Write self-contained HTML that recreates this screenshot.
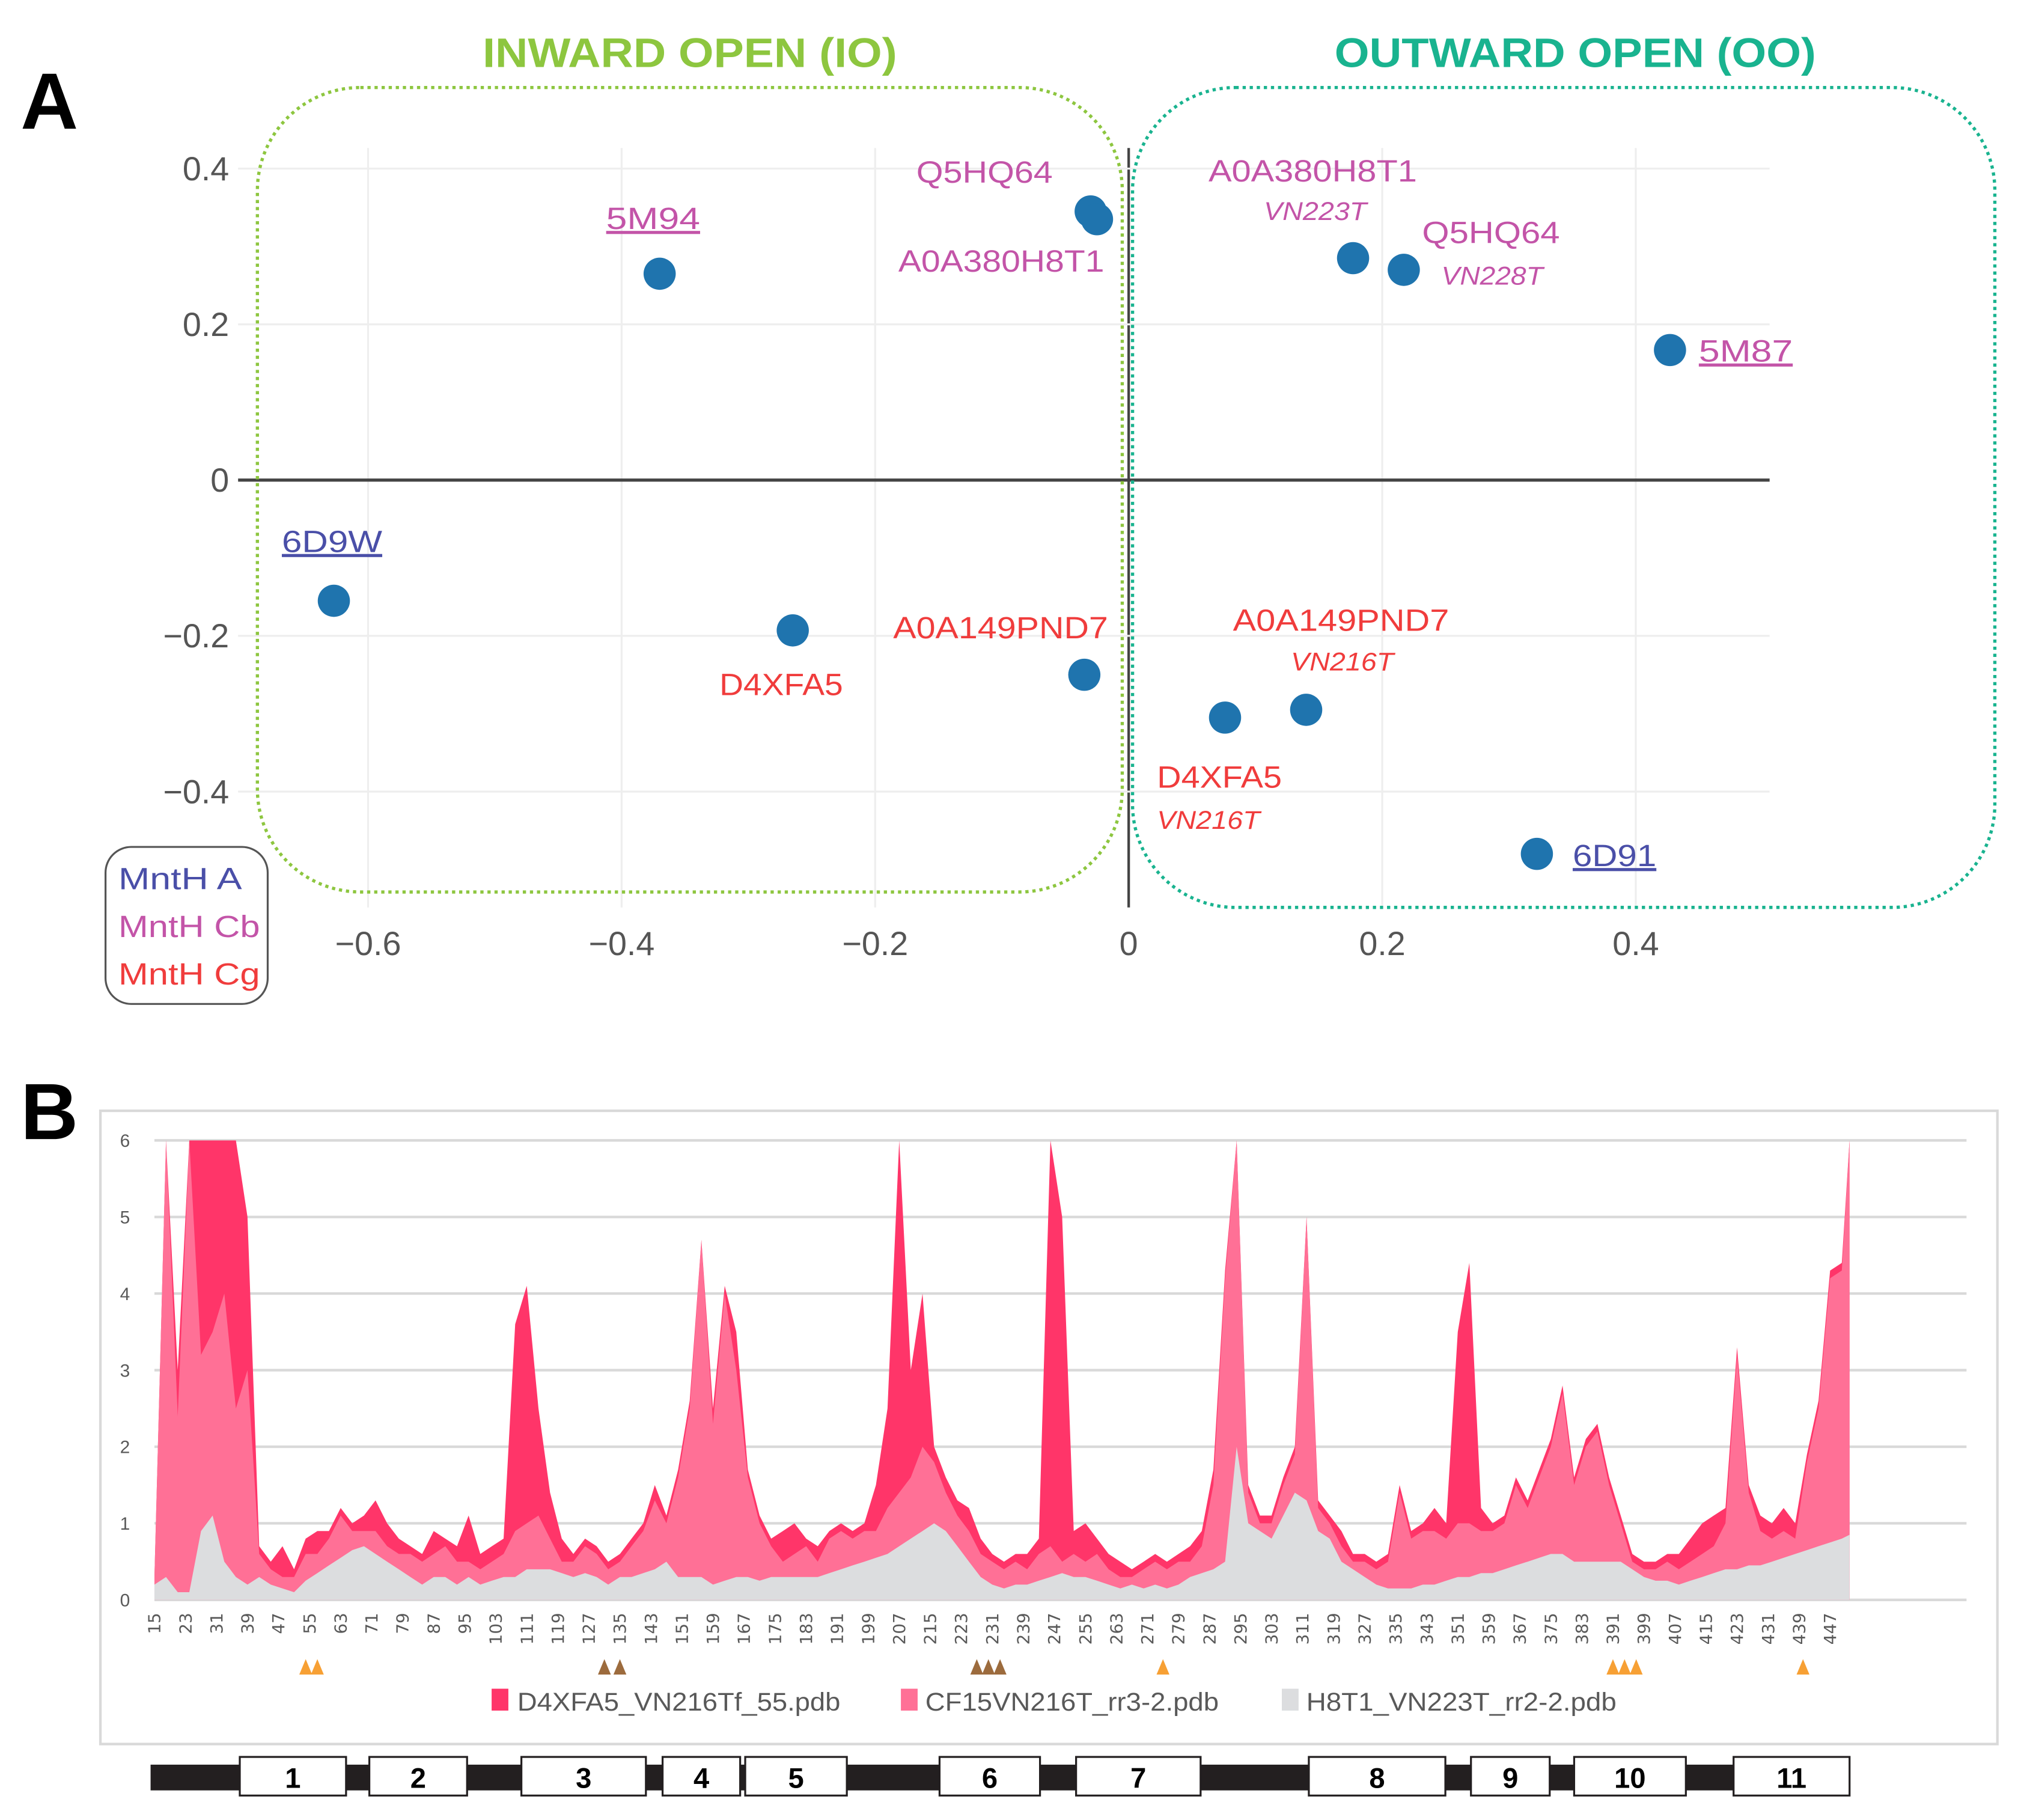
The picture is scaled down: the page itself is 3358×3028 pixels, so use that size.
<!DOCTYPE html>
<html><head><meta charset="utf-8"><style>
html,body{margin:0;padding:0;background:#fff;}
svg{display:block;font-family:"Liberation Sans",sans-serif;}
</style></head><body>
<svg id="fig" width="3358" height="3028" viewBox="0 0 1568 1414" preserveAspectRatio="none" xmlns="http://www.w3.org/2000/svg">
<g id="panelA">
<text x="16" y="100" font-size="62" font-weight="bold" fill="#000">A</text>
<text x="375" y="52" font-size="32" font-weight="bold" fill="#8dc63f" textLength="322" lengthAdjust="spacingAndGlyphs">INWARD OPEN (IO)</text>
<text x="1037" y="52" font-size="32" font-weight="bold" fill="#19b38f" textLength="374" lengthAdjust="spacingAndGlyphs">OUTWARD OPEN (OO)</text>
<g id="gridA"></g>
<rect x="200" y="68" width="672" height="625" rx="80" fill="none" stroke="#8dc63f" stroke-width="2.5" stroke-dasharray="2.5 3"/>
<rect x="880" y="68" width="670" height="637" rx="80" fill="none" stroke="#19b38f" stroke-width="2.5" stroke-dasharray="2.5 3"/>
<g id="pointsA"></g>
<g font-size="24">
<text x="471" y="178" fill="#c354a8" textLength="73" lengthAdjust="spacingAndGlyphs" text-decoration="underline">5M94</text>
<text x="712" y="142" fill="#c354a8" textLength="106" lengthAdjust="spacingAndGlyphs">Q5HQ64</text>
<text x="698" y="211" fill="#c354a8" textLength="160" lengthAdjust="spacingAndGlyphs">A0A380H8T1</text>
<text x="219" y="429" fill="#4a4fa8" textLength="78" lengthAdjust="spacingAndGlyphs" text-decoration="underline">6D9W</text>
<text x="559" y="540" fill="#f03c3c" textLength="96" lengthAdjust="spacingAndGlyphs">D4XFA5</text>
<text x="694" y="496" fill="#f03c3c" textLength="167" lengthAdjust="spacingAndGlyphs">A0A149PND7</text>
<text x="939" y="141" fill="#c354a8" textLength="162" lengthAdjust="spacingAndGlyphs">A0A380H8T1</text>
<text x="982" y="171" fill="#c354a8" font-size="20" font-style="italic" textLength="80" lengthAdjust="spacingAndGlyphs">VN223T</text>
<text x="1105" y="189" fill="#c354a8" textLength="107" lengthAdjust="spacingAndGlyphs">Q5HQ64</text>
<text x="1120" y="221" fill="#c354a8" font-size="20" font-style="italic" textLength="79" lengthAdjust="spacingAndGlyphs">VN228T</text>
<text x="1320" y="281" fill="#c354a8" textLength="73" lengthAdjust="spacingAndGlyphs" text-decoration="underline">5M87</text>
<text x="958" y="490" fill="#f03c3c" textLength="168" lengthAdjust="spacingAndGlyphs">A0A149PND7</text>
<text x="1003" y="521" fill="#f03c3c" font-size="20" font-style="italic" textLength="80" lengthAdjust="spacingAndGlyphs">VN216T</text>
<text x="899" y="612" fill="#f03c3c" textLength="97" lengthAdjust="spacingAndGlyphs">D4XFA5</text>
<text x="899" y="644" fill="#f03c3c" font-size="20" font-style="italic" textLength="80" lengthAdjust="spacingAndGlyphs">VN216T</text>
<text x="1222" y="673" fill="#4a4fa8" textLength="65" lengthAdjust="spacingAndGlyphs" text-decoration="underline">6D91</text>
</g>
<g>
<rect x="82" y="658" width="126" height="122" rx="20" fill="#fff" stroke="#555" stroke-width="1.5"/>
<text x="92" y="691" font-size="24" fill="#4a4fa8" textLength="96" lengthAdjust="spacingAndGlyphs">MntH A</text>
<text x="92" y="728" font-size="24" fill="#c354a8" textLength="110" lengthAdjust="spacingAndGlyphs">MntH Cb</text>
<text x="92" y="765" font-size="24" fill="#f03c3c" textLength="110" lengthAdjust="spacingAndGlyphs">MntH Cg</text>
</g>
</g>
<g id="panelB">
<text x="16" y="885" font-size="62" font-weight="bold" fill="#000">B</text>
<rect x="78" y="863" width="1474" height="492" fill="#fff" stroke="#d9d9d9" stroke-width="2"/>
<g id="gridB"></g>
<g id="areasB"></g>
<g id="ticksB" font-family="'DejaVu Sans',sans-serif" font-size="13" fill="#595959"></g>
<g id="marksB"></g>
<g font-size="20" fill="#595959">
<rect x="382" y="1312" width="13" height="17" fill="#ff3569"/>
<text x="402" y="1329" textLength="251" lengthAdjust="spacingAndGlyphs">D4XFA5_VN216Tf_55.pdb</text>
<rect x="700" y="1312" width="13" height="17" fill="#ff7096"/>
<text x="719" y="1329" textLength="228" lengthAdjust="spacingAndGlyphs">CF15VN216T_rr3-2.pdb</text>
<rect x="996" y="1312" width="13" height="17" fill="#dcdddf"/>
<text x="1015" y="1329" textLength="241" lengthAdjust="spacingAndGlyphs">H8T1_VN223T_rr2-2.pdb</text>
</g>
<g id="tmB"></g>
</g>
</svg>
<script>
var NS='http://www.w3.org/2000/svg';
function mk(tag,attrs,parent){var e=document.createElementNS(NS,tag);for(var k in attrs)e.setAttribute(k,attrs[k]);parent.appendChild(e);return e;}
/* ---------- Panel A data ---------- */
var scatterNames=['5M94','Q5HQ64-IO-a','Q5HQ64-IO-b','6D9W','D4XFA5-IO','A0A149PND7-IO','A0A380H8T1-OO','Q5HQ64-OO','5M87','D4XFA5-OO','A0A149PND7-OO','6D91'];
var scatterX=[-0.37,-0.03,-0.025,-0.627,-0.265,-0.035,0.177,0.217,0.427,0.076,0.14,0.322];
var scatterY=[0.265,0.345,0.335,-0.155,-0.193,-0.25,0.285,0.27,0.167,-0.305,-0.295,-0.48];
var xTicksA=[-0.6,-0.4,-0.2,0,0.2,0.4];
var yTicksA=[-0.4,-0.2,0,0.2,0.4];
var xTickLabelsA=['\u22120.6','\u22120.4','\u22120.2','0','0.2','0.4'];
var yTickLabelsA=['\u22120.4','\u22120.2','0','0.2','0.4'];
function ax(v){return 877+v*985;}
function ay(v){return 373-v*605;}
var gA=document.getElementById('gridA');
for(var i=0;i<xTicksA.length;i++){
 var l=mk('line',{x1:ax(xTicksA[i]),x2:ax(xTicksA[i]),y1:115,y2:705,stroke:xTicksA[i]===0?'#444':'#eeeeee','stroke-width':xTicksA[i]===0?2:1.5},gA);
 
 
 var t=mk('text',{x:ax(xTicksA[i]),y:742,'font-size':26,fill:'#555','text-anchor':'middle'},gA);
 t.textContent=xTickLabelsA[i];
 
 
}
for(var i=0;i<yTicksA.length;i++){
 var l=mk('line',{x1:185,x2:1375,y1:ay(yTicksA[i]),y2:ay(yTicksA[i]),stroke:yTicksA[i]===0?'#444':'#eeeeee','stroke-width':yTicksA[i]===0?2.5:1.5},gA);
 
 
 var t=mk('text',{x:178,y:ay(yTicksA[i])+9,'font-size':26,fill:'#555','text-anchor':'end'},gA);
 t.textContent=yTickLabelsA[i];
 
 
}
var pA=document.getElementById('pointsA');
for(var i=0;i<scatterX.length;i++){
 var c=mk('circle',{cx:ax(scatterX[i]),cy:ay(scatterY[i]),r:12.5,fill:'#1f74ae'},pA);
 
 
}
/* ---------- Panel B data ---------- */
var residues=[15,18,21,24,27,30,33,36,39,42,45,48,51,54,57,60,63,66,69,72,75,78,81,84,87,90,93,96,99,102,105,108,111,114,117,120,123,126,129,132,135,138,141,144,147,150,153,156,159,162,165,168,171,174,177,180,183,186,189,192,195,198,201,204,207,210,213,216,219,222,225,228,231,234,237,240,243,246,249,252,255,258,261,264,267,270,273,276,279,282,285,288,291,294,297,300,303,306,309,312,315,318,321,324,327,330,333,336,339,342,345,348,351,354,357,360,363,366,369,372,375,378,381,384,387,390,393,396,399,402,405,408,411,414,417,420,423,426,429,432,435,438,441,444,447,450,452];
var seriesH8T1=[.2,.3,.1,.1,.9,1.1,.5,.3,.2,.3,.2,.15,.1,.25,.35,.45,.55,.65,.7,.6,.5,.4,.3,.2,.3,.3,.2,.3,.2,.25,.3,.3,.4,.4,.4,.35,.3,.35,.3,.2,.3,.3,.35,.4,.5,.3,.3,.3,.2,.25,.3,.3,.25,.3,.3,.3,.3,.3,.35,.4,.45,.5,.55,.6,.7,.8,.9,1.0,.9,.7,.5,.3,.2,.15,.2,.2,.25,.3,.35,.3,.3,.25,.2,.15,.2,.15,.2,.15,.2,.3,.35,.4,.5,2.0,1.0,.9,.8,1.1,1.4,1.3,.9,.8,.5,.4,.3,.2,.15,.15,.15,.2,.2,.25,.3,.3,.35,.35,.4,.45,.5,.55,.6,.6,.5,.5,.5,.5,.5,.4,.3,.25,.25,.2,.25,.3,.35,.4,.4,.45,.45,.5,.55,.6,.65,.7,.75,.8,.85];
var seriesCF15=[.3,6,2.4,6,3.2,3.5,4,2.5,3,.6,.4,.3,.3,.6,.6,.8,1.1,.9,.9,.9,.7,.6,.6,.5,.6,.7,.5,.5,.4,.5,.6,.9,1.0,1.1,.8,.5,.5,.7,.6,.4,.5,.7,.9,1.3,1.0,1.6,2.5,4.7,2.3,4.0,3.0,1.6,1.0,.7,.5,.6,.7,.5,.8,.9,.8,.9,.9,1.2,1.4,1.6,2.0,1.8,1.4,1.1,.9,.6,.5,.4,.5,.4,.6,.7,.5,.6,.5,.6,.4,.3,.3,.4,.5,.4,.5,.5,.7,1.5,4.2,6,1.4,1.0,1.0,1.5,1.9,5.0,1.2,1.0,.7,.5,.5,.4,.5,1.4,.8,.9,.9,.8,1.0,1.0,.9,.9,1.0,1.5,1.2,1.6,2.0,2.7,1.5,2.0,2.2,1.5,1.0,.5,.4,.4,.5,.4,.5,.6,.7,1.0,3.2,1.4,.9,.8,.9,.8,1.8,2.5,4.2,4.3,6];
var seriesD4XFA5=[.3,6,3,6,6,6,6,6,5,.7,.5,.7,.4,.8,.9,.9,1.2,1.0,1.1,1.3,1.0,.8,.7,.6,.9,.8,.7,1.1,.6,.7,.8,3.6,4.1,2.5,1.4,.8,.6,.8,.7,.5,.6,.8,1.0,1.5,1.1,1.7,2.6,4.7,2.5,4.1,3.5,1.7,1.1,.8,.9,1.0,.8,.7,.9,1.0,.9,1.0,1.5,2.5,6,3,4,2,1.6,1.3,1.2,.8,.6,.5,.6,.6,.8,6,5,.9,1.0,.8,.6,.5,.4,.5,.6,.5,.6,.7,.9,1.7,4.3,6,1.5,1.1,1.1,1.6,2.0,5.0,1.3,1.1,.9,.6,.6,.5,.6,1.5,.9,1.0,1.2,1.0,3.5,4.4,1.2,1.0,1.1,1.6,1.3,1.7,2.1,2.8,1.6,2.1,2.3,1.6,1.1,.6,.5,.5,.6,.6,.8,1.0,1.1,1.2,3.3,1.5,1.1,1.0,1.2,1.0,1.9,2.6,4.3,4.4,6];
var yTicksB=[0,1,2,3,4,5,6];
var orangeMarks=[54,57,275,391,394,397,440];
var brownMarks=[131,135,227,230,233];
var tmLabels=['1','2','3','4','5','6','7','8','9','10','11'];
var tmStart=[37,70.4,109.6,146,167.3,217.4,252.6,312.6,354.4,381,422.1];
var tmEnd=[64.4,95.6,141.7,166,193.5,243.3,284.7,347.8,374.7,409.8,452];
function bx(r){return 120+(r-15)*3.014;}
function by(v){return 1243-v*59.5;}
var gB=document.getElementById('gridB');
for(var i=0;i<yTicksB.length;i++){
 var l=mk('line',{x1:120,x2:1528,y1:by(yTicksB[i]),y2:by(yTicksB[i]),stroke:'#d9d9d9','stroke-width':2},gB);
 
 
 var t=mk('text',{x:101,y:by(yTicksB[i])+5,'font-size':14,fill:'#595959','text-anchor':'end'},gB);
 t.textContent=String(yTicksB[i]);
 
 
}
var aB=document.getElementById('areasB');
function area(vals,color,name){
 var d='M'+bx(residues[0])+','+by(0);
 for(var i=0;i<residues.length;i++)d+=' L'+bx(residues[i]).toFixed(1)+','+by(Math.min(vals[i],6)).toFixed(1);
 d+=' L'+bx(residues[residues.length-1])+','+by(0)+' Z';
 var p=mk('path',{d:d,fill:color},aB);
 
 
}
area(seriesD4XFA5,'#ff3569','area-d4xfa5');
area(seriesCF15,'#ff7096','area-cf15');
area(seriesH8T1,'#dcdddf','area-h8t1');
var tB=document.getElementById('ticksB');
for(var r=15;r<=447;r+=8){
 var t=mk('text',{x:0,y:0,'text-anchor':'end',transform:'translate('+(bx(r)+4.5)+',1253) rotate(-90)'},tB);
 t.textContent=String(r);
 
 
}
var mB=document.getElementById('marksB');
function tri(r,color,name){
 var x=bx(r);
 var p=mk('polygon',{points:(x-5)+',1301 '+(x+5)+',1301 '+x+',1289',fill:color},mB);
 
 
}
for(var i=0;i<orangeMarks.length;i++)tri(orangeMarks[i],'#f7a034','orange-marker');
for(var i=0;i<brownMarks.length;i++)tri(brownMarks[i],'#9c6b3d','brown-marker');
var tm=document.getElementById('tmB');
var bar=mk('rect',{x:117,y:1371,width:1320,height:20,fill:'#231f20'},tm);


for(var i=0;i<tmLabels.length;i++){
 var x1=bx(tmStart[i]),x2=bx(tmEnd[i]);
 var b=mk('rect',{x:x1,y:1365,width:x2-x1,height:30,fill:'#fff',stroke:'#231f20','stroke-width':1.5},tm);
 
 
 var t=mk('text',{x:(x1+x2)/2,y:1389,'text-anchor':'middle','font-size':22,'font-weight':'bold',fill:'#000'},tm);
 t.textContent=tmLabels[i];
 
 
}
</script>
</body></html>
